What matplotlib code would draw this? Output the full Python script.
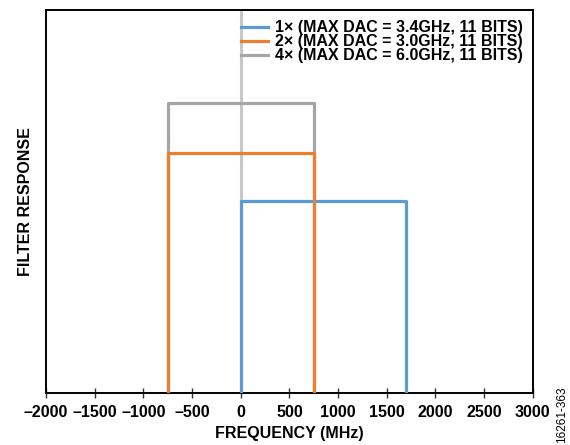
import matplotlib.pyplot as plt

plt.rcParams['font.family'] = ['Liberation Sans', 'DejaVu Sans']
plt.rcParams['font.weight'] = 'bold'

# passband edges (MHz) and relative level of each mode
labels = ['1× (MAX DAC = 3.4GHz, 11 BITS)',
          '2× (MAX DAC = 3.0GHz, 11 BITS)',
          '4× (MAX DAC = 6.0GHz, 11 BITS)']
band_lo = [0, -750, -750]
band_hi = [1700, 750, 750]
level = [0.50, 0.627, 0.756]
colors = ['#5b9bd5', '#ed7d31', '#a5a5a5']
zorders = [3, 4, 2]

xticks = [-2000, -1500, -1000, -500, 0, 500, 1000, 1500, 2000, 2500, 3000]
xtick_labels = ['–2000', '–1500', '–1000', '–500', '0', '500', '1000', '1500', '2000', '2500', '3000']

fig = plt.figure(figsize=(5.7, 4.45), dpi=100)
ax = fig.add_axes([0.0807, 0.1175, 0.854, 0.86])

ax.axvline(0, color='#c8c8c8', lw=2.2, zorder=1)
for lo, hi, h, c, z, lab in zip(band_lo, band_hi, level, colors, zorders, labels):
    ax.plot([lo, lo, hi, hi], [0, h, h, 0], color=c, lw=2.3, label=lab, zorder=z)

ax.set_xlim(-2000, 3000)
ax.set_ylim(0, 1)
ax.set_xticks(xticks)
ax.set_xticklabels(xtick_labels, fontsize=11.5, fontweight='bold')
ax.set_yticks([])
ax.tick_params(axis='x', direction='inout', length=7, width=1, pad=5, color='#333333')
for s in ax.spines.values():
    s.set_linewidth(1.4)

ax.set_xlabel('FREQUENCY (MHz)', fontsize=11.5, fontweight='bold', labelpad=5)
ax.set_ylabel('FILTER RESPONSE', fontsize=11.5, fontweight='bold', labelpad=9)

handles, labs = ax.get_legend_handles_labels()
ax.legend(handles, labs, loc='upper right', frameon=False, handlelength=1.7,
          handletextpad=0.4, labelspacing=-0.07, borderaxespad=0.25,
          prop={'weight': 'bold', 'size': 11.5})

fig.text(0.986, 0.067, '16261-363', rotation=90, fontsize=8.5, fontweight='normal',
         ha='center', va='center')

fig.savefig('out.png', dpi=100)
